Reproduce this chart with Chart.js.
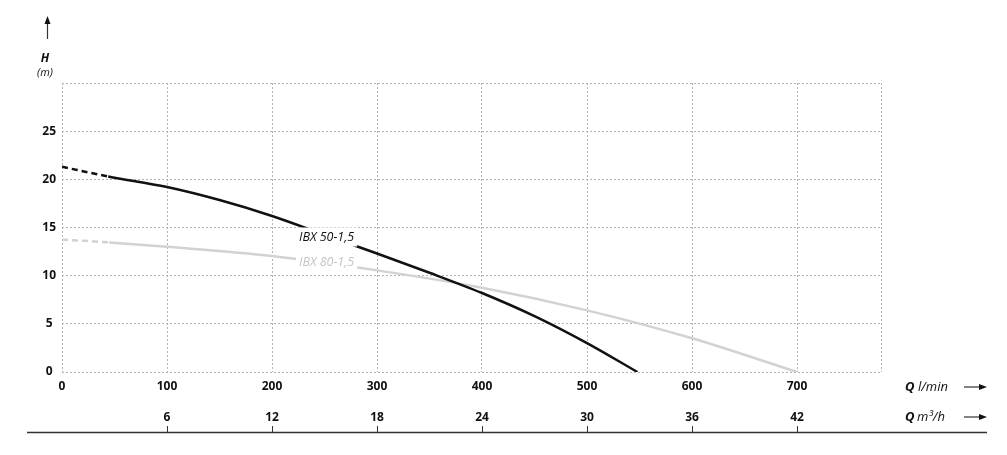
<!DOCTYPE html>
<html>
<head>
<meta charset="utf-8">
<script src="https://cdn.jsdelivr.net/npm/chart.js@4"></script>
<style>
  html, body { margin: 0; padding: 0; background: #fff; }
  #wrap { width: 1007px; height: 455px; }
</style>
</head>
<body>
<div id="wrap"><canvas id="pump" width="1007" height="455"></canvas></div>
<script>
// flow in l/min and head in m
const qBlack = [0, 44, 100, 150, 200, 250, 300, 350, 400, 450, 500, 548];
const hBlack = [21.3, 20.3, 19.2, 17.85, 16.2, 14.25, 12.3, 10.3, 8.2, 5.8, 3.0, 0];
const qGray = [0, 45, 100, 200, 300, 400, 500, 600, 700];
const hGray = [13.75, 13.45, 13.0, 12.05, 10.55, 8.75, 6.4, 3.5, 0];

const seriesNames = ["IBX 50-1,5", "IBX 80-1,5"];
const labelAt = [[252, 13.96], [252, 11.35]]; // Q, H of each curve label

const qTicks = [0, 100, 200, 300, 400, 500, 600, 700, 780];
const m3Ticks = [6, 12, 18, 24, 30, 36, 42];
const hTicks = [0, 5, 10, 15, 20, 25, 30];
const qMax = 780;
const hMax = 30;

const black = "#111111";
const grey = "#d2d2d2";
const gridColor = "#b3b3b3";

Chart.defaults.font.family = "'Open Sans', sans-serif";
Chart.defaults.color = "#111";

function points(qs, hs) {
  return qs.map((q, i) => ({ x: q, y: hs[i] }));
}

// first segment of each curve is dashed
const dashFirst = ctx => (ctx.p0DataIndex === 0 ? [6, 4] : undefined);

const decorations = {
  id: "decorations",
  afterDatasetsDraw(chart) {
    const { ctx, scales: { x, y } } = chart;
    ctx.save();
    ctx.font = "italic 12.5px 'Open Sans'";
    ctx.textAlign = "center";
    ctx.textBaseline = "middle";
    const colors = ["#111", "#c4c4c4"];
    labelAt.forEach((p, i) => {
      const px = x.getPixelForValue(p[0]);
      const py = y.getPixelForValue(p[1]);
      const w = ctx.measureText(seriesNames[i]).width;
      ctx.fillStyle = "#fff";
      ctx.fillRect(px - w / 2 - 3, py - 10, w + 6, 19);
      ctx.fillStyle = colors[i];
      ctx.fillText(seriesNames[i], px, py);
    });
    ctx.restore();
  },
  afterDraw(chart) {
    const { ctx, scales: { x2 } } = chart;
    ctx.save();
    ctx.strokeStyle = "#333";
    ctx.fillStyle = "#111";

    // baseline under the m3/h scale
    ctx.lineWidth = 1.5;
    ctx.beginPath();
    ctx.moveTo(27, 432.5);
    ctx.lineTo(987, 432.5);
    ctx.stroke();
    ctx.lineWidth = 1;
    m3Ticks.forEach(v => {
      const px = Math.round(x2.getPixelForValue(v)) + 0.5;
      ctx.beginPath();
      ctx.moveTo(px, 426);
      ctx.lineTo(px, 432);
      ctx.stroke();
    });

    const arrowRight = (x0, x1, yy) => {
      ctx.lineWidth = 1.2;
      ctx.beginPath();
      ctx.moveTo(x0, yy);
      ctx.lineTo(x1 - 6, yy);
      ctx.stroke();
      ctx.beginPath();
      ctx.moveTo(x1, yy);
      ctx.lineTo(x1 - 8, yy - 3);
      ctx.lineTo(x1 - 8, yy + 3);
      ctx.closePath();
      ctx.fill();
    };

    // unit labels
    ctx.textBaseline = "middle";
    ctx.textAlign = "left";
    ctx.font = "italic bold 13px 'Open Sans'";
    ctx.fillText("Q", 905, 387);
    ctx.fillText("Q", 905, 417);
    ctx.font = "italic 13px 'Open Sans'";
    ctx.fillText("l/min", 918, 387);
    ctx.fillText("m³/h", 917, 417);
    arrowRight(964, 987, 387);
    arrowRight(964, 987, 417);

    // H (m) with up arrow
    ctx.textAlign = "center";
    ctx.font = "italic bold 12px 'Open Sans'";
    ctx.fillText("H", 45, 59);
    ctx.font = "italic 11px 'Open Sans'";
    ctx.fillText("(m)", 45, 73);
    ctx.lineWidth = 1.2;
    ctx.beginPath();
    ctx.moveTo(47.5, 39);
    ctx.lineTo(47.5, 22);
    ctx.stroke();
    ctx.beginPath();
    ctx.moveTo(47.5, 16);
    ctx.lineTo(44.5, 24);
    ctx.lineTo(50.5, 24);
    ctx.closePath();
    ctx.fill();
    ctx.restore();
  }
};

new Chart(document.getElementById("pump"), {
  type: "line",
  data: {
    datasets: [
      {
        label: seriesNames[0],
        data: points(qBlack, hBlack),
        borderColor: black,
        borderWidth: 2.5,
        pointRadius: 0,
        cubicInterpolationMode: "monotone",
        segment: { borderDash: dashFirst }
      },
      {
        label: seriesNames[1],
        data: points(qGray, hGray),
        borderColor: grey,
        borderWidth: 2.5,
        pointRadius: 0,
        cubicInterpolationMode: "monotone",
        segment: { borderDash: dashFirst }
      }
    ]
  },
  options: {
    responsive: false,
    animation: false,
    devicePixelRatio: 1,
    layout: { padding: { left: 24, right: 126, top: 83, bottom: 0 } },
    plugins: { legend: { display: false }, tooltip: { enabled: false } },
    scales: {
      x: {
        type: "linear",
        position: "bottom",
        min: 0,
        max: qMax,
        afterBuildTicks: s => { s.ticks = qTicks.map(v => ({ value: v })); },
        afterFit: s => { s.height = 31; },
        ticks: {
          autoSkip: false,
          maxRotation: 0,
          padding: 7,
          font: { size: 12, weight: "bold" },
          callback: v => (v === qMax ? "" : v)
        },
        grid: { color: gridColor, lineWidth: 1, drawTicks: false },
        border: { display: false, dash: [2, 2] }
      },
      x2: {
        type: "linear",
        position: "bottom",
        min: 0,
        max: qMax * 0.06,
        afterBuildTicks: s => { s.ticks = m3Ticks.map(v => ({ value: v })); },
        afterFit: s => { s.height = 52; },
        ticks: {
          autoSkip: false,
          maxRotation: 0,
          padding: 7,
          font: { size: 12, weight: "bold" }
        },
        grid: { display: false, drawTicks: false },
        border: { display: false }
      },
      y: {
        type: "linear",
        min: 0,
        max: hMax,
        afterBuildTicks: s => { s.ticks = hTicks.map(v => ({ value: v })); },
        afterFit: s => { s.width = 38; },
        ticks: {
          autoSkip: false,
          crossAlign: "center",
          padding: 6,
          font: { size: 12, weight: "bold" },
          callback: v => (v === hMax ? "" : v)
        },
        grid: { color: gridColor, lineWidth: 1, drawTicks: false },
        border: { display: false, dash: [2, 2] }
      }
    }
  },
  plugins: [decorations]
});
</script>
</body>
</html>
